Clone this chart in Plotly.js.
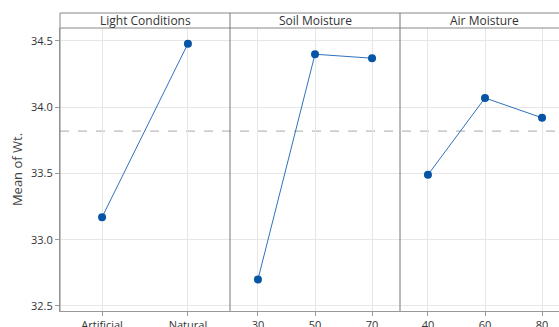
<!DOCTYPE html>
<html>
<head>
<meta charset="utf-8">
<script src="https://cdn.plot.ly/plotly-3.0.1.min.js"></script>
<style>
html, body { margin: 0; padding: 0; overflow: hidden; background: #fff; }
#chart { width: 580px; height: 340px; }
</style>
</head>
<body>
<div id="chart"></div>
<script>
// Data
const panelTitles = ['Light Conditions', 'Soil Moisture', 'Air Moisture'];
const lightLevels = ['Artificial', 'Natural'];
const lightMeans = [33.17, 34.48];
const soilLevels = ['30', '50', '70'];
const soilMeans = [32.70, 34.40, 34.37];
const airLevels = ['40', '60', '80'];
const airMeans = [33.49, 34.07, 33.92];
const grandMean = 33.82;
const yTicks = [32.5, 33.0, 33.5, 34.0, 34.5];
const yTickLabels = ['32.5', '33.0', '33.5', '34.0', '34.5'];

const FONT = 'Open Sans, Noto Sans, sans-serif';
const markerColor = '#0554a6';
const lineColor = '#2f72bd';

function trace(x, y, xa) {
  return {
    x: x, y: y, xaxis: xa, yaxis: 'y', type: 'scatter', mode: 'lines+markers',
    line: { color: lineColor, width: 1 },
    marker: { color: markerColor, size: 8 },
    hoverinfo: 'x+y', showlegend: false, cliponaxis: false
  };
}

const data = [
  trace(lightLevels, lightMeans, 'x'),
  trace(soilLevels, soilMeans, 'x2'),
  trace(airLevels, airMeans, 'x3')
];

const hdr = 1.053;
const third = 1 / 3;

function xax(domain, n) {
  return {
    domain: domain, type: 'category', anchor: 'y',
    range: [-0.49, n - 1 + 0.49],
    showgrid: true, gridcolor: '#e6e6e6', gridwidth: 1,
    zeroline: false, showline: true, linecolor: '#999', linewidth: 1,
    ticks: 'outside', ticklen: 4, tickcolor: '#999',
    tickfont: { family: FONT, size: 11, color: '#333' },
    fixedrange: true
  };
}

const layout = {
  width: 580, height: 340,
  margin: { l: 60, r: 10, t: 28, b: 29 },
  paper_bgcolor: '#fff', plot_bgcolor: '#fff',
  font: { family: FONT, color: '#333' },
  xaxis: xax([0, third], lightLevels.length),
  xaxis2: xax([third, 2 * third], soilLevels.length),
  xaxis3: xax([2 * third, 1], airLevels.length),
  yaxis: {
    range: [32.462, 34.598],
    tickvals: yTicks, ticktext: yTickLabels,
    showgrid: true, gridcolor: '#e6e6e6', zeroline: false,
    showline: true, linecolor: '#999', linewidth: 1,
    ticks: 'outside', ticklen: 4, tickcolor: '#999',
    tickfont: { family: FONT, size: 11, color: '#333' },
    title: { text: 'Mean of Wt.', font: { family: FONT, size: 13, color: '#444' }, standoff: 5 },
    anchor: 'x', fixedrange: true
  },
  shapes: [
    { type: 'line', xref: 'paper', yref: 'y', x0: 0, x1: 1, y0: grandMean, y1: grandMean,
      line: { color: '#aaaaaa', width: 1, dash: 'dash' }, layer: 'below' },
    { type: 'line', xref: 'paper', yref: 'paper', x0: 0, x1: 1, y0: 1, y1: 1, line: { color: '#888', width: 1 } },
    { type: 'line', xref: 'paper', yref: 'paper', x0: 0, x1: 1, y0: hdr, y1: hdr, line: { color: '#888', width: 1 } },
    { type: 'line', xref: 'paper', yref: 'paper', x0: 0, x1: 0, y0: 0, y1: hdr, line: { color: '#888', width: 1 } },
    { type: 'line', xref: 'paper', yref: 'paper', x0: third, x1: third, y0: 0, y1: hdr, line: { color: '#777', width: 1 } },
    { type: 'line', xref: 'paper', yref: 'paper', x0: 2 * third, x1: 2 * third, y0: 0, y1: hdr, line: { color: '#777', width: 1 } },
    { type: 'line', xref: 'paper', yref: 'paper', x0: 1, x1: 1, y0: 0, y1: hdr, line: { color: '#777', width: 1 } }
  ],
  annotations: panelTitles.map((t, i) => ({
    text: t, xref: 'paper', yref: 'paper', x: (i + 0.5) * third, y: (1 + hdr) / 2,
    xanchor: 'center', yanchor: 'middle', showarrow: false,
    font: { family: FONT, size: 12, color: '#333' }
  }))
};

Plotly.newPlot('chart', data, layout, { displayModeBar: false, staticPlot: true });
</script>
</body>
</html>
